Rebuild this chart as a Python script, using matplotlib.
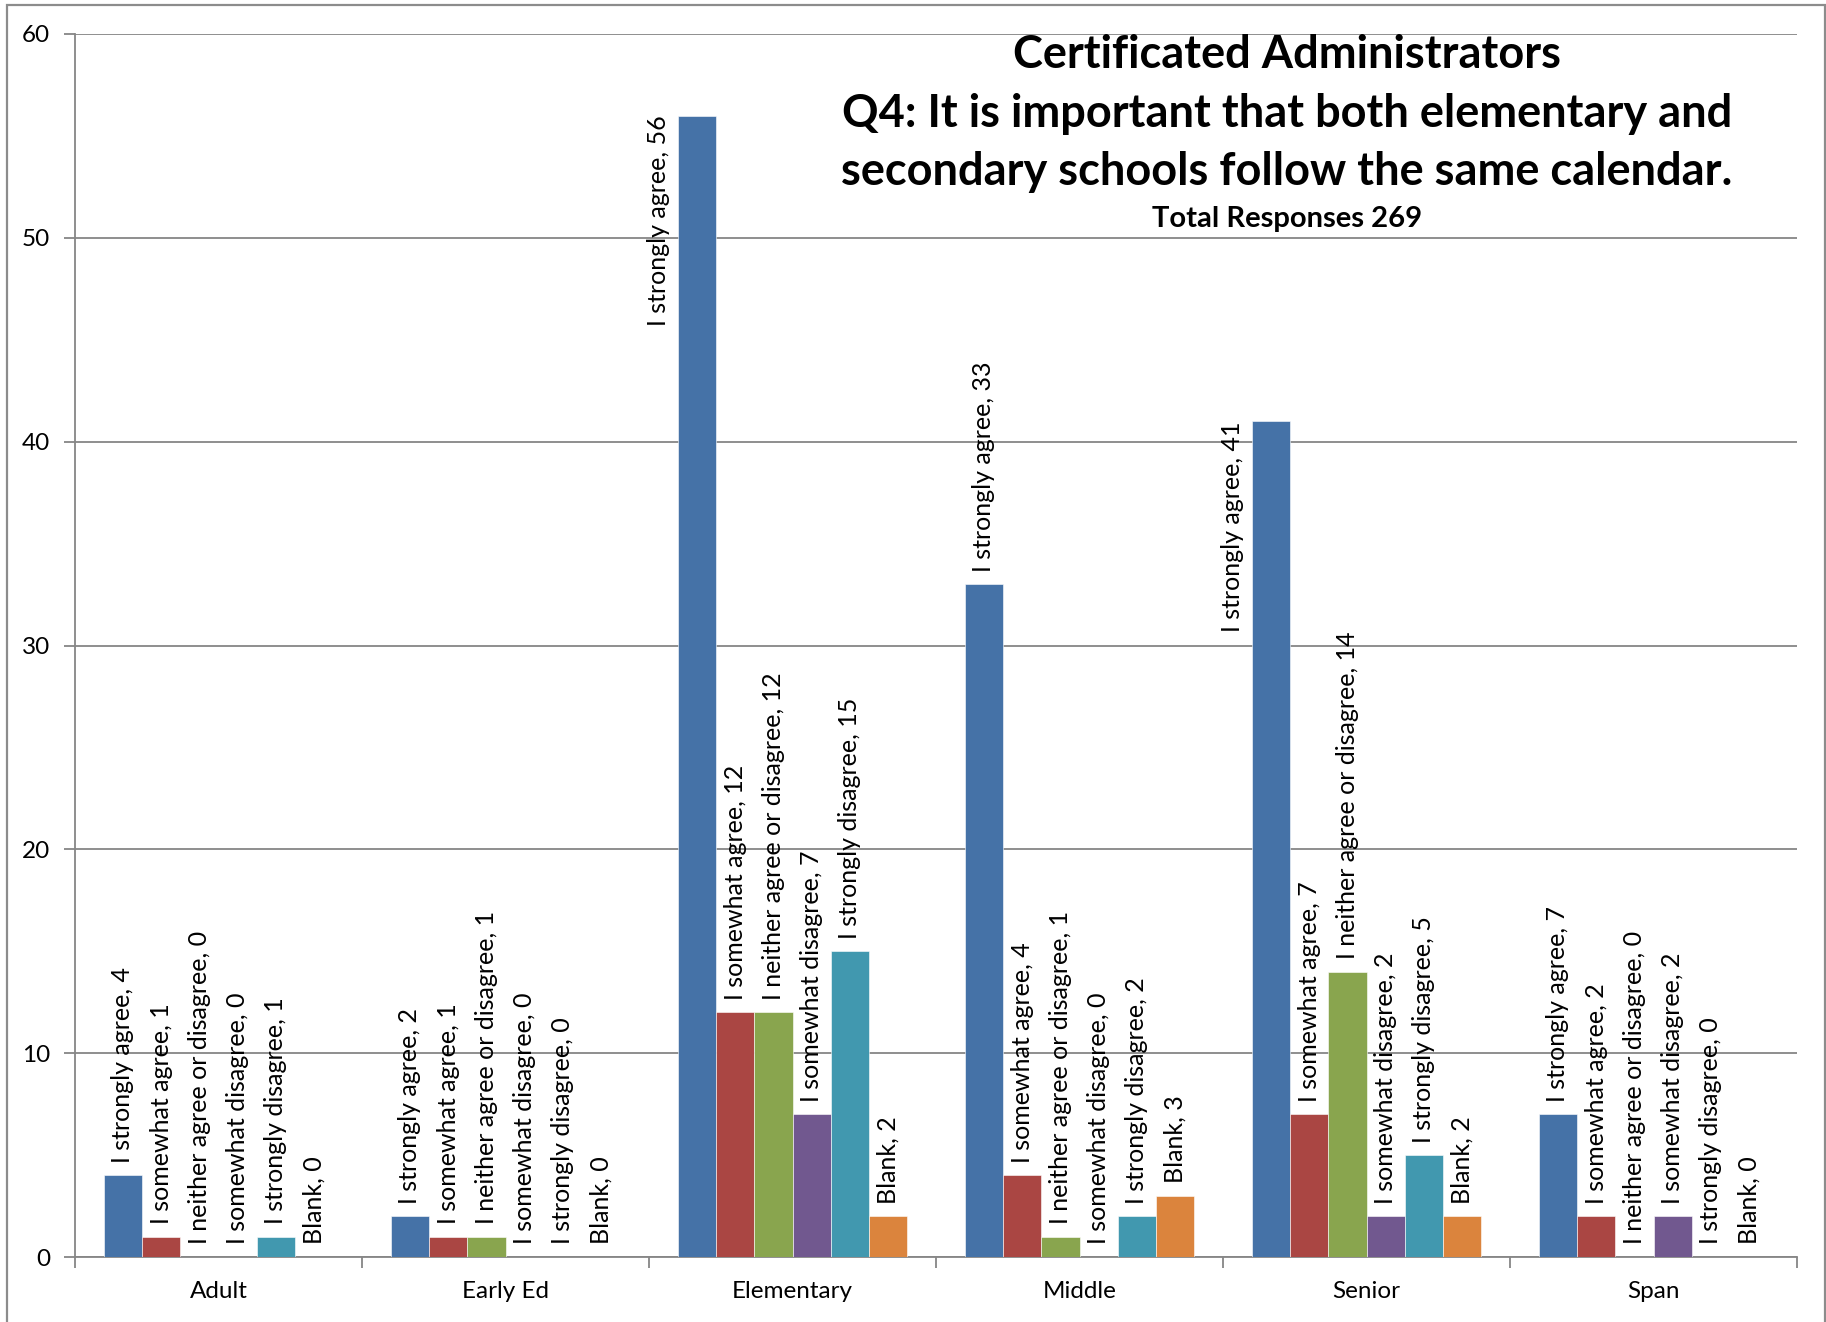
import matplotlib
matplotlib.use("Agg")
import matplotlib.pyplot as plt
import numpy as np
from matplotlib.patches import Rectangle

categories = ["Adult", "Early Ed", "Elementary", "Middle", "Senior", "Span"]
series_names = ["I strongly agree", "I somewhat agree", "I neither agree or disagree",
                "I somewhat disagree", "I strongly disagree", "Blank"]
values = [
    [4, 2, 56, 33, 41, 7],    # I strongly agree
    [1, 1, 12, 4, 7, 2],      # I somewhat agree
    [0, 1, 12, 1, 14, 0],     # I neither agree or disagree
    [0, 0, 7, 0, 2, 2],       # I somewhat disagree
    [1, 0, 15, 2, 5, 0],      # I strongly disagree
    [0, 0, 2, 3, 2, 0],       # Blank
]
colors = ["#4572A7", "#AA4643", "#89A54E", "#71588F", "#4198AF", "#DB843D"]
title_lines = ["Certificated Administrators",
               "Q4: It is important that both elementary and",
               "secondary schools follow the same calendar."]
subtitle = "Total Responses 269"
yticks = [0, 10, 20, 30, 40, 50, 60]

plt.rcParams['font.family'] = ['Lato', 'DejaVu Sans']

W, H = 1826, 1322
fig = plt.figure(figsize=(W / 100, H / 100), dpi=100)
ax = fig.add_axes([75 / W, 1 - 1257 / H, (1797 - 75) / W, (1257 - 34) / H])

n_cat = len(categories)
n_ser = len(series_names)
group_w = 0.80
bw = group_w / n_ser
x = np.arange(n_cat)

lab_fs = 18
grid_c = "#868686"
for s in range(n_ser):
    pos = x - group_w / 2 + bw * (s + 0.5)
    ax.bar(pos, values[s], width=bw, color=colors[s], edgecolor="white",
           linewidth=0.4, zorder=3)
    for i in range(n_cat):
        v = values[s][i]
        lab = f"{series_names[s]}, {v}"
        if v > 38:
            ax.text(pos[i] - bw, v, lab, rotation=90, ha="center", va="top",
                    fontsize=lab_fs, color="black", zorder=4)
        else:
            ax.annotate(lab, (pos[i], v), xytext=(0, 9), textcoords="offset points",
                        rotation=90, ha="center", va="bottom", fontsize=lab_fs,
                        color="black", zorder=4)

ax.set_xlim(-0.5, n_cat - 0.5)
ax.set_ylim(0, 60)
ax.set_yticks(yticks)
ax.set_yticklabels([str(t) for t in yticks], fontsize=17.5)
ax.yaxis.grid(True, color=grid_c, linewidth=1.3, zorder=0)
ax.set_axisbelow(True)

ax.set_xticks(np.arange(n_cat + 1) - 0.5)
ax.set_xticklabels([])
ax.set_xticks(x, minor=True)
ax.set_xticklabels(categories, minor=True, fontsize=17.5)
ax.tick_params(axis="x", which="minor", length=0, pad=17)
ax.tick_params(axis="x", which="major", length=8, width=1.3, color=grid_c)
ax.tick_params(axis="y", length=8, width=1.3, color=grid_c, pad=10)

for side in ["top", "right"]:
    ax.spines[side].set_visible(False)
for side in ["left", "bottom"]:
    ax.spines[side].set_color(grid_c)
    ax.spines[side].set_linewidth(1.3)

# title block
cx = 1287 / W
ys = [55, 114, 172]
for t, yy in zip(title_lines, ys):
    fig.text(cx, 1 - yy / H, t, ha="center", va="center", fontsize=32.5,
             fontweight="bold", color="black")
fig.text(cx, 1 - 219 / H, subtitle, ha="center", va="center", fontsize=21,
         fontweight="bold", color="black")

# outer chart border
fig.patches.append(Rectangle((7 / W, -0.01), (1825 - 7) / W, 1 - 5 / H + 0.01,
                             transform=fig.transFigure, fill=False,
                             edgecolor="#8c8c8c", linewidth=1.6))

fig.savefig("out.png", dpi=100, facecolor="white")
